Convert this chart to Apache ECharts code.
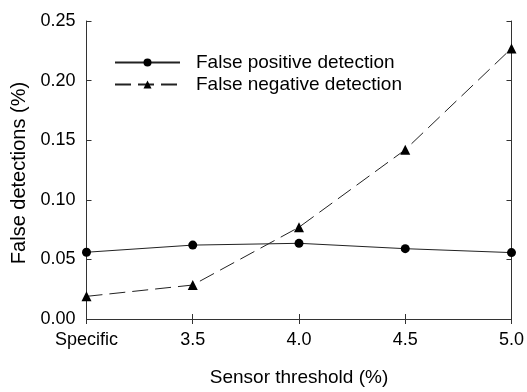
<!DOCTYPE html>
<html>
<head>
<meta charset="utf-8">
<script src="https://cdn.jsdelivr.net/npm/echarts@6/dist/echarts.min.js"></script>
<style>
html,body{margin:0;padding:0;background:#fff;}
#chart{width:527px;height:392px;}
</style>
</head>
<body>
<div id="chart"></div>
<script>
var categories = ['Specific', '3.5', '4.0', '4.5', '5.0'];
var falsePositive = [0.056, 0.062, 0.0635, 0.059, 0.0557];
var falseNegative = [0.019, 0.0285, 0.077, 0.142, 0.227];
var seriesNames = ['False positive detection', 'False negative detection'];
var xTitle = 'Sensor threshold (%)';
var yTitle = 'False detections (%)';

var FONT = 'Liberation Sans, Arial, sans-serif';
var AX = '#333';
var chart = echarts.init(document.getElementById('chart'), null, {renderer: 'canvas'});
chart.setOption({
  animation: false,
  backgroundColor: '#fff',
  grid: {left: 86.5, right: 14, top: 21, bottom: 63, containLabel: false},
  legend: {
    orient: 'vertical',
    left: 114,
    top: 53,
    padding: 0,
    itemWidth: 65,
    itemHeight: 10,
    itemGap: 3,
    textStyle: {fontFamily: FONT, fontSize: 19, color: '#000', padding: [0, 0, 0, 11]},
    data: seriesNames
  },
  xAxis: [{
    type: 'category',
    data: categories,
    boundaryGap: false,
    name: xTitle,
    nameLocation: 'middle',
    nameGap: 49,
    nameTextStyle: {fontFamily: FONT, fontSize: 19, color: '#000'},
    axisLine: {lineStyle: {color: AX, width: 1}},
    axisTick: {inside: true, length: 5, lineStyle: {color: AX}},
    axisLabel: {fontFamily: FONT, fontSize: 18, color: '#000', margin: 12},
    splitLine: {show: false}
  }, {
    type: 'category',
    data: categories,
    boundaryGap: false,
    position: 'top',
    axisLine: {lineStyle: {color: AX, width: 1}},
    axisTick: {inside: true, length: 5, lineStyle: {color: AX}},
    axisLabel: {show: false},
    splitLine: {show: false}
  }],
  yAxis: [{
    type: 'value',
    min: 0, max: 0.25, interval: 0.05,
    name: yTitle,
    nameLocation: 'middle',
    nameGap: 55,
    nameTextStyle: {fontFamily: FONT, fontSize: 20, color: '#000', padding: [0, 6, 0, 0]},
    axisLine: {show: true, lineStyle: {color: AX, width: 1}},
    axisTick: {show: true, inside: true, length: 5, lineStyle: {color: AX}},
    axisLabel: {fontFamily: FONT, fontSize: 18, color: '#000', margin: 11,
      formatter: function (v) { return v.toFixed(2); }},
    splitLine: {show: false}
  }, {
    type: 'value',
    min: 0, max: 0.25, interval: 0.05,
    position: 'right',
    axisLine: {show: true, lineStyle: {color: AX, width: 1}},
    axisTick: {show: true, inside: true, length: 5, lineStyle: {color: AX}},
    axisLabel: {show: false},
    splitLine: {show: false}
  }],
  series: [{
    name: seriesNames[0],
    type: 'line',
    data: falsePositive,
    symbol: 'circle',
    symbolSize: 9,
    itemStyle: {color: '#000'},
    lineStyle: {color: '#222', width: 1}
  }, {
    name: seriesNames[1],
    type: 'line',
    data: falseNegative,
    symbol: 'triangle',
    symbolSize: 10,
    itemStyle: {color: '#000'},
    lineStyle: {color: '#222', width: 1, type: [16, 7]}
  }]
});
</script>
</body>
</html>
